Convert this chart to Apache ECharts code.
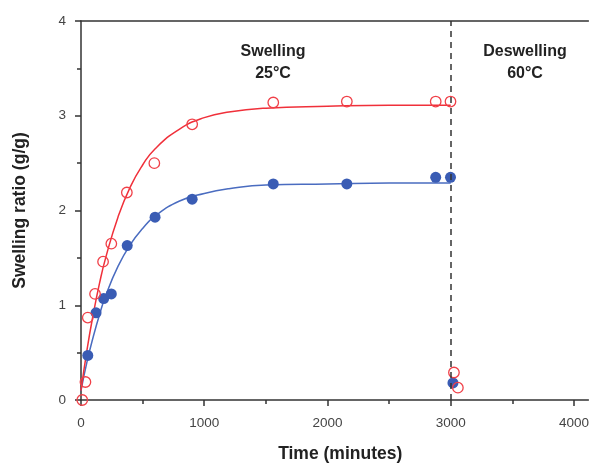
<!DOCTYPE html>
<html>
<head>
<meta charset="utf-8">
<script src="https://cdn.jsdelivr.net/npm/echarts@6/dist/echarts.min.js"></script>
<style>
    html, body { margin: 0; padding: 0; background: #fff; }
    #chart { width: 592px; height: 468px; }
</style>
</head>
<body>
<div id="chart"></div>
<script>
// measured points (time in minutes, swelling ratio g/g)
var redPoints = [
    [10, 0], [36, 0.19], [55, 0.87], [114, 1.12], [179, 1.46], [246, 1.65],
    [372, 2.19], [595, 2.50], [902, 2.91], [1560, 3.14], [2157, 3.15],
    [2878, 3.15], [2998, 3.15], [3026, 0.29], [3058, 0.13]
];
var bluePoints = [
    [55, 0.47], [122, 0.92], [184, 1.07], [246, 1.12], [375, 1.63],
    [601, 1.93], [902, 2.12], [1560, 2.28], [2157, 2.28], [2878, 2.35],
    [2998, 2.35], [3018, 0.18]
];

// fitted curves
var fitX = [0, 50, 100, 150, 200, 300, 400, 500, 600, 800, 1000, 1200, 1500, 2000, 2500, 3000];
var redFit = [0.10, 0.54, 0.91, 1.23, 1.50, 1.93, 2.25, 2.48, 2.65, 2.86, 2.98, 3.04, 3.08, 3.10, 3.11, 3.11];
var blueFit = [0.10, 0.41, 0.67, 0.90, 1.10, 1.41, 1.64, 1.81, 1.94, 2.10, 2.18, 2.23, 2.27, 2.28, 2.29, 2.29];

var xMajor = [0, 1000, 2000, 3000, 4000];
var xMinor = [500, 1500, 2500, 3500];
var switchTime = 3000;

var chart = echarts.init(document.getElementById('chart'));

function pairs(xs, ys) {
    var out = [];
    for (var i = 0; i < xs.length; i++) {
        out.push([xs[i], ys[i]]);
    }
    return out;
}

var axisColor = '#333';
var fontFam = '"Liberation Sans", Arial, sans-serif';
var xMax = 4117;   // frame is cut off by the picture's right edge

var option = {
    animation: false,
    grid: {
        left: 81,
        right: 0,
        top: 21,
        bottom: 65
    },
    xAxis: [
        {
            type: 'value',
            min: 0,
            max: xMax,
            name: 'Time (minutes)',
            nameLocation: 'middle',
            nameGap: 45,
            nameTextStyle: {
                fontFamily: fontFam, fontWeight: 'bold', fontSize: 17.5, color: '#222',
                padding: [0, 0, 0, 11]
            },
            axisLine: { onZero: false, lineStyle: { color: axisColor, width: 1.5 } },
            axisTick: { customValues: xMajor, length: 6, lineStyle: { color: axisColor, width: 1.5 } },
            axisLabel: {
                customValues: xMajor,
                fontFamily: fontFam, fontSize: 13.5, color: '#444', margin: 16,
                formatter: function (v) { return String(v); }
            },
            splitLine: { show: false }
        },
        {
            // minor ticks on the time axis
            type: 'value',
            position: 'bottom',
            min: 0,
            max: xMax,
            axisLine: { show: false, onZero: false },
            axisTick: { customValues: xMinor, length: 4, lineStyle: { color: axisColor, width: 1.5 } },
            axisLabel: { show: false },
            splitLine: { show: false }
        },
        {
            // top frame line
            type: 'value',
            position: 'top',
            min: 0,
            max: xMax,
            axisLine: { show: true, onZero: false, lineStyle: { color: axisColor, width: 1.5 } },
            axisTick: { show: false },
            axisLabel: { show: false },
            splitLine: { show: false }
        }
    ],
    yAxis: {
        type: 'value',
        min: 0,
        max: 4,
        interval: 1,
        name: 'Swelling ratio (g/g)',
        nameLocation: 'middle',
        nameGap: 52,
        nameTextStyle: {
            fontFamily: fontFam, fontWeight: 'bold', fontSize: 17.5, color: '#222'
        },
        axisLine: { show: true, onZero: false, lineStyle: { color: axisColor, width: 1.5 } },
        axisTick: { length: 6, lineStyle: { color: axisColor, width: 1.5 } },
        minorTick: { show: true, splitNumber: 2, length: 4, lineStyle: { color: axisColor, width: 1.5 } },
        axisLabel: { fontFamily: fontFam, fontSize: 13.5, color: '#444', margin: 15 },
        splitLine: { show: false }
    },
    series: [
        {
            name: 'blue fit',
            type: 'line',
            smooth: true,
            showSymbol: false,
            data: pairs(fitX, blueFit),
            lineStyle: { color: '#4a6cc0', width: 1.5 },
            z: 2
        },
        {
            name: 'red fit',
            type: 'line',
            smooth: true,
            showSymbol: false,
            data: pairs(fitX, redFit),
            lineStyle: { color: '#f0303a', width: 1.5 },
            z: 2,
            markLine: {
                silent: true,
                symbol: 'none',
                label: { show: false },
                lineStyle: { color: '#333', type: [6, 5], width: 1.5 },
                data: [[{ coord: [switchTime, 0] }, { coord: [switchTime, 4] }]]
            }
        },
        {
            name: 'blue',
            type: 'scatter',
            symbol: 'circle',
            symbolSize: 11,
            data: bluePoints,
            itemStyle: { color: '#3a5cb4', opacity: 1 },
            z: 3
        },
        {
            name: 'red',
            type: 'scatter',
            symbol: 'circle',
            symbolSize: 10.5,
            data: redPoints,
            itemStyle: { color: 'rgba(255,255,255,0)', borderColor: '#f04048', borderWidth: 1.3, opacity: 1 },
            z: 4
        }
    ],
    graphic: [
        {
            type: 'text',
            x: 273, y: 41,
            style: {
                text: 'Swelling\n25°C', textAlign: 'center',
                font: 'bold 16px "Liberation Sans", Arial, sans-serif', fill: '#222', lineHeight: 22
            }
        },
        {
            type: 'text',
            x: 525, y: 41,
            style: {
                text: 'Deswelling\n60°C', textAlign: 'center',
                font: 'bold 16px "Liberation Sans", Arial, sans-serif', fill: '#222', lineHeight: 22
            }
        }
    ]
};

chart.setOption(option);
</script>
</body>
</html>
